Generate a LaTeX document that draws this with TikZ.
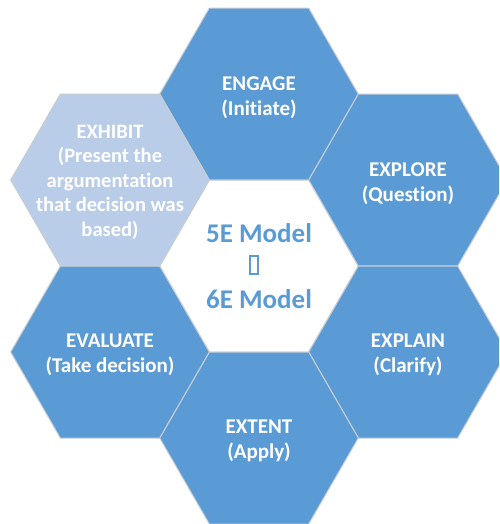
\documentclass[tikz,border=0pt]{standalone}
\usepackage{fontspec}
\setmainfont{Carlito}[Ligatures=NoCommon]
\usetikzlibrary{shapes.geometric}
\definecolor{hexblue}{HTML}{5B9BD5}
\definecolor{hexlight}{HTML}{B9CDE8}
\definecolor{hexedge}{HTML}{C8CDD4}
\tikzset{
  hexa/.style={regular polygon, regular polygon sides=6, minimum size=198.6pt,
    inner sep=0pt, outer sep=0pt, draw=hexedge, line width=1pt},
  lbl/.style={align=center, text=white, font=\fontsize{21}{25}\selectfont\bfseries, inner sep=0pt},
  centerlbl/.style={align=center, text=hexblue, font=\fontsize{27}{33}\selectfont\bfseries, inner sep=0pt},
  tofu/.style={draw=hexblue, line width=2.4pt, minimum width=7.5pt, minimum height=17.5pt, inner sep=0pt}
}
\begin{document}
\begin{tikzpicture}[x=1pt,y=-1pt]
\useasboundingbox (0,0) rectangle (499,524);
\clip (0,0) rectangle (499,524);
\node[hexa, fill=white] (center) at (259,266) {};
\node[hexa, fill=hexblue] (engage) at (259,94) {};
\node[hexa, fill=hexblue] (explore) at (408,180) {};
\node[hexa, fill=hexblue] (explain) at (408,352) {};
\node[hexa, fill=hexblue] (extent) at (259,438) {};
\node[hexa, fill=hexblue] (evaluate) at (110,352) {};
\node[hexa, fill=hexlight] (exhibit) at (110,180) {};
\node[lbl] (tengage) at ([yshift=-4pt]engage.center) {ENGAGE\\(Initiate)};
\node[lbl] (texplore) at ([yshift=-4pt]explore.center) {EXPLORE\\(Question)};
\node[lbl] (texplain) at ([yshift=-3pt]explain.center) {EXPLAIN\\(Clarify)};
\node[lbl] (textent) at ([yshift=-3pt]extent.center) {EXTENT\\(Apply)};
\node[lbl] (tevaluate) at ([yshift=-3pt]evaluate.center) {EVALUATE\\(Take decision)};
\node[lbl, font=\fontsize{20.5}{24.5}\selectfont\bfseries] (texhibit) at ([yshift=-2pt]exhibit.center) {EXHIBIT\\(Present the\\argumentation\\that decision was\\based)};
\node[centerlbl] (t5e) at (259,233) {5E Model};
\node[tofu] (box) at (254,265) {};
\node[centerlbl] (t6e) at (259,299) {6E Model};
\end{tikzpicture}
\end{document}
